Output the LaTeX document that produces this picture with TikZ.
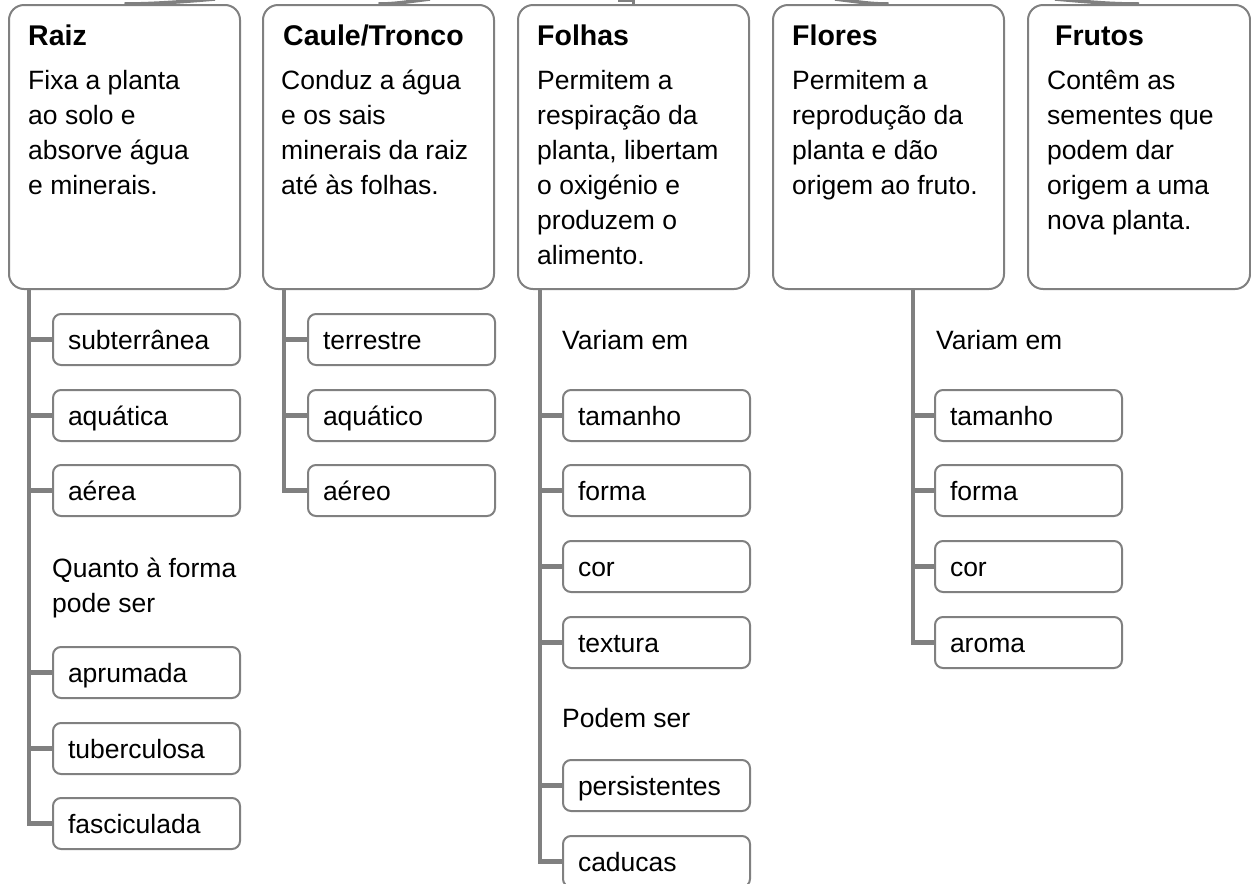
\documentclass[tikz,border=0pt]{standalone}
\usepackage{fontspec}
\setmainfont{Liberation Sans}
\definecolor{lg}{RGB}{128,128,128}
\newcommand\bodytext[1]{\parbox[t]{215pt}{\raggedright #1}}
\tikzset{
 mainbox/.style={draw=lg, line width=2pt, rounded corners=15pt, anchor=north west, minimum width=231pt, minimum height=284pt, inner sep=0pt},
 subbox/.style={draw=lg, line width=2pt, rounded corners=8pt, anchor=north west, minimum width=187pt, minimum height=51pt, inner ysep=0pt, inner xsep=15pt, text width=157pt, align=left, text height=22pt, text depth=3pt, font=\fontsize{26.5}{35}\selectfont},
 trunk/.style={draw=lg, line width=4.5pt},
 conn/.style={draw=lg, line width=3.5pt},
 ttl/.style={anchor=base west, inner sep=0pt, font=\fontsize{28.5}{34}\selectfont\bfseries},
 bodyt/.style={anchor=base west, inner sep=0pt, font=\fontsize{26.5}{35}\selectfont},
}
\begin{document}
\begin{tikzpicture}[x=1pt,y=1pt]
\useasboundingbox (0,0) rectangle (1251,-884);
% top connectors (cut off)
\coordinate (up1) at (215,1);
\coordinate (up2) at (430,1);
\coordinate (up3) at (618,-0.5);
\coordinate (up4) at (835,1);
\coordinate (up5) at (1055,1);
% main boxes
\node[mainbox] (raiz) at (8,-4) {};
\node[mainbox] (caule) at (262,-4) {};
\node[mainbox] (folhas) at (517,-4) {};
\node[mainbox] (flores) at (772,-4) {};
\node[mainbox, minimum width=222pt] (frutos) at (1027,-4) {};
\draw[conn] (raiz.north) .. controls (150,-4) and (180,-2) .. (up1);
\draw[conn] (caule.north) .. controls (395,-4) and (405,-2) .. (up2);
\draw[conn] (folhas.north) |- (up3);
\draw[conn] (flores.north) .. controls (870,-4) and (860,-2) .. (up4);
\draw[conn] (frutos.north) .. controls (1110,-4) and (1090,-2) .. (up5);
% titles
\node[ttl] (traiz) at (28,-45.5) {Raiz};
\node[ttl] (tcaule) at (283,-45.5) {Caule/Tronco};
\node[ttl] (tfolhas) at (537,-45.5) {Folhas};
\node[ttl] (tflores) at (792,-45.5) {Flores};
\node[ttl] (tfrutos) at (1055,-45.5) {Frutos};
% bodies
\node[bodyt] (braiz) at (28,-89) {\bodytext{Fixa a planta\\ao solo e\\absorve água\\e minerais.}};
\node[bodyt] (bcaule) at (281,-89) {\bodytext{Conduz a água\\e os sais\\minerais da raiz\\até às folhas.}};
\node[bodyt] (bfolhas) at (537,-89) {\bodytext{Permitem a\\respiração da\\planta, libertam\\o oxigénio e\\produzem o\\alimento.}};
\node[bodyt] (bflores) at (792,-89) {\bodytext{Permitem a\\reprodução da\\planta e dão\\origem ao fruto.}};
\node[bodyt] (bfrutos) at (1047,-89) {\bodytext{Contêm as\\sementes que\\podem dar\\origem a uma\\nova planta.}};
% Raiz children
\node[subbox] (r1) at (52,-313) {subterrânea};
\node[subbox] (r2) at (52,-389) {aquática};
\node[subbox] (r3) at (52,-464) {aérea};
\node[bodyt] (rq) at (52,-577) {\bodytext{Quanto à forma\\pode ser}};
\node[subbox] (r4) at (52,-646) {aprumada};
\node[subbox] (r5) at (52,-722) {tuberculosa};
\node[subbox] (r6) at (52,-797) {fasciculada};
% Caule children
\node[subbox] (c1) at (307,-313) {terrestre};
\node[subbox] (c2) at (307,-389) {aquático};
\node[subbox] (c3) at (307,-464) {aéreo};
% Folhas children
\node[bodyt] (fv) at (562,-349) {Variam em};
\node[subbox] (f1) at (562,-389) {tamanho};
\node[subbox] (f2) at (562,-464) {forma};
\node[subbox] (f3) at (562,-540) {cor};
\node[subbox] (f4) at (562,-616) {textura};
\node[bodyt] (fp) at (562,-727) {Podem ser};
\node[subbox] (f5) at (562,-759) {persistentes};
\node[subbox] (f6) at (562,-835) {caducas};
% Flores children
\node[bodyt] (lv) at (936,-349) {Variam em};
\node[subbox] (l1) at (934,-389) {tamanho};
\node[subbox] (l2) at (934,-464) {forma};
\node[subbox] (l3) at (934,-540) {cor};
\node[subbox] (l4) at (934,-616) {aroma};
% trunks
\coordinate (rT) at (29,-289);
\coordinate (cT) at (284,-289);
\coordinate (fT) at (540,-289);
\coordinate (lT) at (913,-289);
\draw[trunk] (rT) |- (r6.west);
\foreach \n in {r1,r2,r3,r4,r5} \draw[trunk] (rT |- \n.west) -- (\n.west);
\draw[trunk] (cT) |- (c3.west);
\foreach \n in {c1,c2} \draw[trunk] (cT |- \n.west) -- (\n.west);
\draw[trunk] (fT) |- (f6.west);
\foreach \n in {f1,f2,f3,f4,f5} \draw[trunk] (fT |- \n.west) -- (\n.west);
\draw[trunk] (lT) |- (l4.west);
\foreach \n in {l1,l2,l3} \draw[trunk] (lT |- \n.west) -- (\n.west);
\end{tikzpicture}
\end{document}
